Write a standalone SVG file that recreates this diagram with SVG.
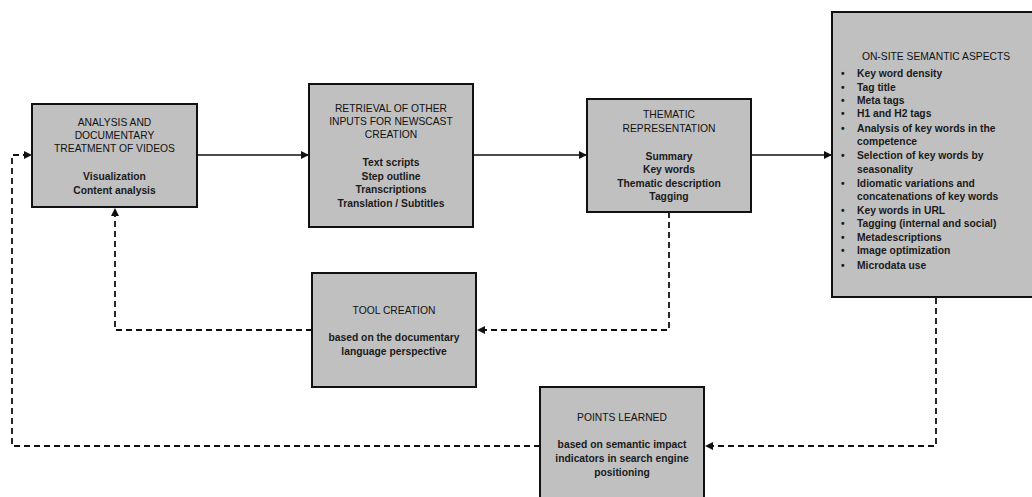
<svg xmlns="http://www.w3.org/2000/svg" width="1032" height="497" viewBox="0 0 1032 497">
<defs>
<marker id="ah" viewBox="0 0 10 10" refX="10" refY="5" markerWidth="8" markerHeight="8" markerUnits="userSpaceOnUse" orient="auto">
<path d="M0,0 L10,5 L0,10 z" fill="#111"/>
</marker>
<style>
.box{fill:#c0c0c0;stroke:#111;stroke-width:2}
.t{font-family:"Liberation Sans",Arial,sans-serif;font-size:10.3px;fill:#111;text-anchor:middle}
.b{font-family:"Liberation Sans",Arial,sans-serif;font-size:10.3px;font-weight:bold;fill:#1a1a1a;text-anchor:middle}
.l{font-family:"Liberation Sans",Arial,sans-serif;font-size:10.3px;font-weight:bold;fill:#1a1a1a}
.solid{fill:none;stroke:#111;stroke-width:1.6}
.dash{fill:none;stroke:#111;stroke-width:1.8;stroke-dasharray:6,4}
</style>
</defs>
<rect width="1032" height="497" fill="#fff"/>
<g id="connectors">
<line class="solid" x1="197" y1="155" x2="309" y2="155" marker-end="url(#ah)"/>
<line class="solid" x1="473" y1="155" x2="587" y2="155" marker-end="url(#ah)"/>
<line class="solid" x1="751" y1="155" x2="832" y2="155" marker-end="url(#ah)"/>
<polyline class="dash" points="936,298 936,446 705,446" marker-end="url(#ah)"/>
<polyline class="dash" points="540,446 12,446 12,155 32,155" marker-end="url(#ah)"/>
<polyline class="dash" points="669,212 669,330 477,330" marker-end="url(#ah)"/>
<polyline class="dash" points="312,330 115,330 115,208" marker-end="url(#ah)"/>
</g>
<g id="analysis">
<rect class="box" x="32" y="104" width="165" height="103"/>
<text class="t" x="114.5" y="126">ANALYSIS  AND</text>
<text class="t" x="114.5" y="139">DOCUMENTARY</text>
<text class="t" x="114.5" y="152">TREATMENT  OF  VIDEOS</text>
<text class="b" x="114.5" y="180">Visualization</text>
<text class="b" x="114.5" y="194">Content analysis</text>
</g>
<g id="retrieval">
<rect class="box" x="309" y="84" width="164" height="143"/>
<text class="t" x="391" y="112">RETRIEVAL  OF  OTHER</text>
<text class="t" x="391" y="125">INPUTS FOR NEWSCAST</text>
<text class="t" x="391" y="138">CREATION</text>
<text class="b" x="391" y="166">Text scripts</text>
<text class="b" x="391" y="180">Step outline</text>
<text class="b" x="391" y="193">Transcriptions</text>
<text class="b" x="391" y="207">Translation / Subtitles</text>
</g>
<g id="thematic">
<rect class="box" x="587" y="99" width="164" height="113"/>
<text class="t" x="669" y="118">THEMATIC</text>
<text class="t" x="669" y="132">REPRESENTATION</text>
<text class="b" x="669" y="160">Summary</text>
<text class="b" x="669" y="173">Key words</text>
<text class="b" x="669" y="187">Thematic description</text>
<text class="b" x="669" y="200">Tagging</text>
</g>
<g id="onsite">
<rect class="box" x="832" y="12" width="206" height="285"/>
<text class="t" x="936" y="60">ON-SITE  SEMANTIC  ASPECTS</text>
<g class="l">
<text x="841" y="77">•</text><text x="857" y="77">Key word density</text>
<text x="841" y="91">•</text><text x="857" y="91">Tag title</text>
<text x="841" y="104">•</text><text x="857" y="104">Meta tags</text>
<text x="841" y="117">•</text><text x="857" y="117">H1 and H2 tags</text>
<text x="841" y="132">•</text><text x="857" y="132">Analysis of key words in the</text>
<text x="857" y="145">competence</text>
<text x="841" y="159">•</text><text x="857" y="159">Selection of key words by</text>
<text x="857" y="173">seasonality</text>
<text x="841" y="187">•</text><text x="857" y="187">Idiomatic variations and</text>
<text x="857" y="200">concatenations of key words</text>
<text x="841" y="214">•</text><text x="857" y="214">Key words in URL</text>
<text x="841" y="227">•</text><text x="857" y="227">Tagging (internal and social)</text>
<text x="841" y="241">•</text><text x="857" y="241">Metadescriptions</text>
<text x="841" y="254">•</text><text x="857" y="254">Image optimization</text>
<text x="841" y="269">•</text><text x="857" y="269">Microdata use</text>
</g>
</g>
<g id="tool">
<rect class="box" x="312" y="273" width="164" height="114"/>
<text class="t" x="394" y="314">TOOL  CREATION</text>
<text class="b" x="394" y="341">based on the documentary</text>
<text class="b" x="394" y="355">language perspective</text>
</g>
<g id="points">
<rect class="box" x="540" y="387" width="164" height="120"/>
<text class="t" x="622" y="421">POINTS  LEARNED</text>
<text class="b" x="622" y="448">based on semantic impact</text>
<text class="b" x="622" y="462">indicators in search engine</text>
<text class="b" x="622" y="476">positioning</text>
</g>
</svg>
